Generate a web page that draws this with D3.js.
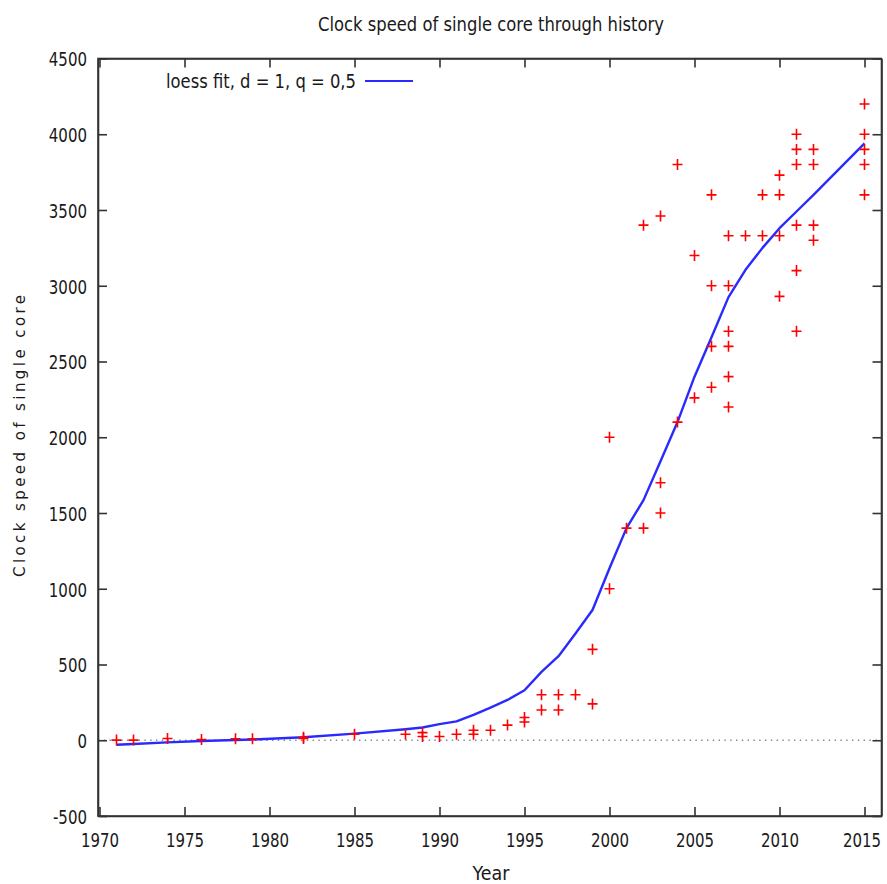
<!DOCTYPE html>
<html>
<head>
<meta charset="utf-8">
<script src="https://cdn.jsdelivr.net/npm/d3@7"></script>
<style>
  body { margin: 0; background: #fff; }
  svg { display: block; }
  text { font-family: "DejaVu Sans", sans-serif; fill: #1a1a1a; }
</style>
</head>
<body>
<div id="chart"></div>
<script>
// measured cores: year / clock (MHz)
var pointYear = [1971, 1972, 1974, 1976, 1978, 1979, 1982, 1982, 1985, 1988,
    1989, 1989, 1990, 1991, 1992, 1992, 1993, 1994, 1995, 1995,
    1996, 1996, 1997, 1997, 1998, 1999, 1999, 2000, 2000, 2001,
    2002, 2002, 2003, 2003, 2003, 2004, 2004, 2005, 2005,
    2006, 2006, 2006, 2006, 2007, 2007, 2007, 2007, 2007, 2007,
    2008, 2009, 2009, 2010, 2010, 2010, 2010,
    2011, 2011, 2011, 2011, 2011, 2011, 2012, 2012, 2012, 2012,
    2015, 2015, 2015, 2015, 2015];
var pointSpeed = [1, 1, 12, 5, 10, 10, 12, 20, 40, 40,
    25, 50, 25, 40, 40, 66, 66, 100, 120, 150,
    200, 300, 200, 300, 300, 240, 600, 1000, 2000, 1400,
    1400, 3400, 1500, 1700, 3460, 2100, 3800, 2260, 3200,
    2330, 2600, 3000, 3600, 2200, 2400, 2600, 2700, 3000, 3330,
    3330, 3330, 3600, 2930, 3330, 3600, 3730,
    2700, 3100, 3400, 3800, 3900, 4000, 3300, 3400, 3800, 3900,
    3600, 3800, 3900, 4000, 4200];

// loess fit, d = 1, q = 0,5
var fitYear = [1971, 1972, 1974, 1976, 1978, 1979, 1982, 1985, 1988, 1989,
    1990, 1991, 1992, 1993, 1994, 1995, 1996, 1997, 1998, 1999,
    2000, 2001, 2002, 2003, 2004, 2005, 2006, 2007, 2008, 2009,
    2010, 2011, 2012, 2015];
var fitSpeed = [-30, -25, -14, -5, 2, 5, 20, 44, 73, 84,
    106, 125, 168, 216, 266, 330, 451, 555, 705, 860,
    1135, 1400, 1585, 1842, 2100, 2400, 2660, 2925, 3105, 3250,
    3380, 3490, 3600, 3940];

var xTicks = d3.range(1970, 2016, 5);
var yTicks = d3.range(-500, 4501, 500);

var width = 887, height = 884;

var svg = d3.select("#chart").append("svg")
    .attr("width", width)
    .attr("height", height);

var x = d3.scaleLinear().domain([1970, 2016]).range([99.5, 881.5]);
var y = d3.scaleLinear().domain([-500, 4500]).range([816, 58.5]);

// squeeze text horizontally (the reference font is narrow)
function squeeze(sel, f) {
    sel.each(function () {
        var w = this.getComputedTextLength();
        d3.select(this).attr("textLength", w * f).attr("lengthAdjust", "spacingAndGlyphs");
    });
}

// plain hyphen minus like gnuplot
function plain(d) { return String(d); }

// zero line
svg.append("line")
    .attr("x1", 98).attr("x2", 881.5)
    .attr("y1", y(0)).attr("y2", y(0))
    .attr("stroke", "#888")
    .attr("stroke-width", 1.4)
    .attr("stroke-dasharray", "1.4,4.4");

// fit line
var line = d3.line()
    .x(function (d, i) { return x(fitYear[i]); })
    .y(function (d, i) { return y(fitSpeed[i]); });

svg.append("path")
    .datum(fitSpeed)
    .attr("d", line)
    .attr("fill", "none")
    .attr("stroke", "#2a2aff")
    .attr("stroke-width", 2.4)
    .attr("stroke-linejoin", "round");

// points
svg.selectAll(".pt")
    .data(pointSpeed)
    .enter()
    .append("path")
    .attr("class", "pt")
    .attr("transform", function (d, i) { return "translate(" + x(pointYear[i]) + "," + y(d) + ")"; })
    .attr("d", "M-5,0H5M0,-5.5V5.5")
    .attr("stroke", "#ff0000")
    .attr("stroke-width", 1.6)
    .attr("fill", "none");

// axes (ticks inward, mirrored)
var axBottom = svg.append("g")
    .attr("transform", "translate(0,816)")
    .style("color", "#333")
    .call(d3.axisBottom(x).tickValues(xTicks).tickSize(-9).tickSizeOuter(0)
        .tickPadding(17).tickFormat(plain));
var axTop = svg.append("g")
    .attr("transform", "translate(0,58.5)")
    .style("color", "#333")
    .call(d3.axisTop(x).tickValues(xTicks).tickSize(-9).tickSizeOuter(0).tickFormat(""));
var axLeft = svg.append("g")
    .attr("transform", "translate(98,0)")
    .style("color", "#333")
    .call(d3.axisLeft(y).tickValues(yTicks).tickSize(-9).tickSizeOuter(0)
        .tickPadding(11).tickFormat(plain));
var axRight = svg.append("g")
    .attr("transform", "translate(881.5,0)")
    .style("color", "#333")
    .call(d3.axisRight(y).tickValues(yTicks).tickSize(-9).tickSizeOuter(0).tickFormat(""));

[axBottom, axTop, axLeft, axRight].forEach(function (g) {
    g.selectAll("path, line").attr("stroke-width", 1.6);
    g.selectAll("text").style("font-size", "19.5px").attr("fill", "#1a1a1a")
        .style("font-family", "DejaVu Sans, sans-serif");
});
axLeft.selectAll("text").attr("dy", "0.38em");
squeeze(axBottom.selectAll("text"), 0.77);
squeeze(axLeft.selectAll("text"), 0.77);
// keep the last year label inside the page
axBottom.selectAll("text").filter(function (d) { return d === 2015; }).attr("x", -3);

// frame
svg.append("rect")
    .attr("x", 98).attr("y", 58.5)
    .attr("width", 881.5 - 98).attr("height", 816 - 58.5)
    .attr("fill", "none")
    .attr("stroke", "#333")
    .attr("stroke-width", 1.6);

// title
svg.append("text")
    .attr("x", 491).attr("y", 31)
    .attr("text-anchor", "middle")
    .style("font-size", "19.5px")
    .attr("textLength", 346)
    .attr("lengthAdjust", "spacingAndGlyphs")
    .text("Clock speed of single core through history");

// axis titles
svg.append("text")
    .attr("x", 491).attr("y", 880)
    .attr("text-anchor", "middle")
    .style("font-size", "20px")
    .attr("textLength", 37)
    .attr("lengthAdjust", "spacingAndGlyphs")
    .text("Year");

svg.append("text")
    .attr("transform", "translate(25,436) rotate(-90)")
    .attr("text-anchor", "middle")
    .style("font-size", "15px")
    .attr("textLength", 282)
    .attr("lengthAdjust", "spacing")
    .text("Clock speed of single core");

// legend
svg.append("text")
    .attr("x", 356).attr("y", 88)
    .attr("text-anchor", "end")
    .style("font-size", "20px")
    .attr("textLength", 190)
    .attr("lengthAdjust", "spacingAndGlyphs")
    .text("loess fit, d = 1, q = 0,5");

svg.append("line")
    .attr("x1", 365).attr("x2", 413)
    .attr("y1", 81).attr("y2", 81)
    .attr("stroke", "#2a2aff")
    .attr("stroke-width", 2);
</script>
</body>
</html>
